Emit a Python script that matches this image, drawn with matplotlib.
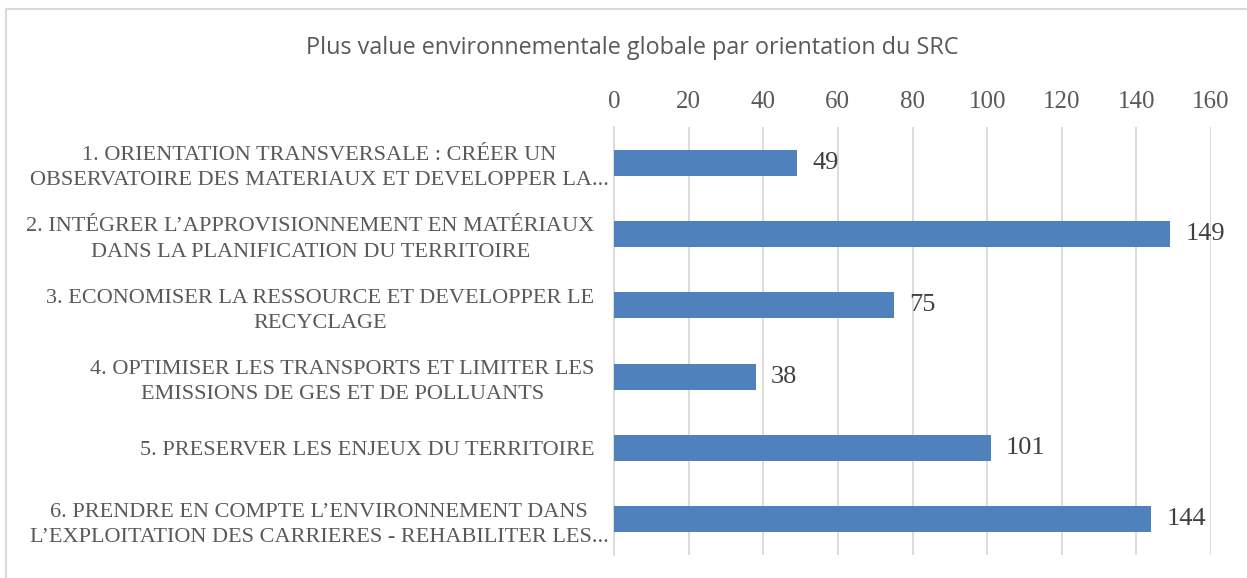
import matplotlib.pyplot as plt
import matplotlib.transforms as mtransforms
from matplotlib.lines import Line2D

FIGWIDTH = 12.47
FIGHEIGHT = 5.78
SERIF = 'Liberation Serif'

categories = [
    "1. ORIENTATION TRANSVERSALE : CRÉER UN\nOBSERVATOIRE DES MATERIAUX ET DEVELOPPER LA...",
    "2. INTÉGRER L\u2019APPROVISIONNEMENT EN MATÉRIAUX\nDANS LA PLANIFICATION DU TERRITOIRE",
    "3. ECONOMISER LA RESSOURCE ET DEVELOPPER LE\nRECYCLAGE",
    "4. OPTIMISER LES TRANSPORTS ET LIMITER LES\nEMISSIONS DE GES ET DE POLLUANTS",
    "5. PRESERVER LES ENJEUX DU TERRITOIRE",
    "6. PRENDRE EN COMPTE L\u2019ENVIRONNEMENT DANS\nL\u2019EXPLOITATION DES CARRIERES - REHABILITER LES...",
]
values = [49, 149, 75, 38, 101, 144]
xticks = [0, 20, 40, 60, 80, 100, 120, 140, 160]
title = "Plus value environnementale globale par orientation du SRC"

fig = plt.figure(figsize=(FIGWIDTH, FIGHEIGHT), dpi=100)
ax = fig.add_axes([614 / 1247, 1 - 555 / 578, (1211 - 614) / 1247, (555 - 127) / 578])

pos = list(range(len(values)))
ax.barh(pos, values, height=0.36, color='#4F81BD', zorder=3)
ax.set_ylim(len(values) - 0.5, -0.5)
ax.set_xlim(0, 160)

ax.set_yticks(pos)
ax.set_yticklabels(categories, fontfamily=SERIF, fontsize=16, color='#595959',
                   ha='right', multialignment='center', linespacing=1.45)
ax.tick_params(axis='y', length=0, pad=14)
# truncated labels spill past the label box towards the axis, as in Excel
for lab in ax.get_yticklabels():
    if lab.get_text().endswith('...'):
        lab.set_transform(lab.get_transform() +
                          mtransforms.ScaledTranslation(14 / 100, 0, fig.dpi_scale_trans))

ax.xaxis.tick_top()
ax.set_xticks(xticks)
ax.set_xticklabels([str(t) for t in xticks], fontfamily=SERIF, fontsize=18, color='#595959')
ax.tick_params(axis='x', length=0, pad=10)

ax.grid(axis='x', color='#D9D9D9', linewidth=1.3, zorder=0)
for s in ['top', 'right', 'bottom']:
    ax.spines[s].set_visible(False)
ax.spines['left'].set_color('#D9D9D9')
ax.spines['left'].set_linewidth(1.3)

for p, v in zip(pos, values):
    ax.annotate(str(v), (v, p), xytext=(11, 0), textcoords='offset points',
                va='center', ha='left', fontfamily=SERIF, fontsize=19, color='#404040')

fig.text(632 / 1247, 1 - 48 / 578, title, ha='center', va='center',
         fontfamily='Open Sans', fontsize=16.8, color='#595959')

# chart frame: only the top and left edges are visible in the crop
fig.lines.append(Line2D([6 / 1247, 1], [1 - 9 / 578, 1 - 9 / 578],
                        transform=fig.transFigure, color='#D9D9D9', linewidth=1.5))
fig.lines.append(Line2D([6 / 1247, 6 / 1247], [0, 1 - 9 / 578],
                        transform=fig.transFigure, color='#D9D9D9', linewidth=1.5))

fig.savefig('out.png', dpi=100)
